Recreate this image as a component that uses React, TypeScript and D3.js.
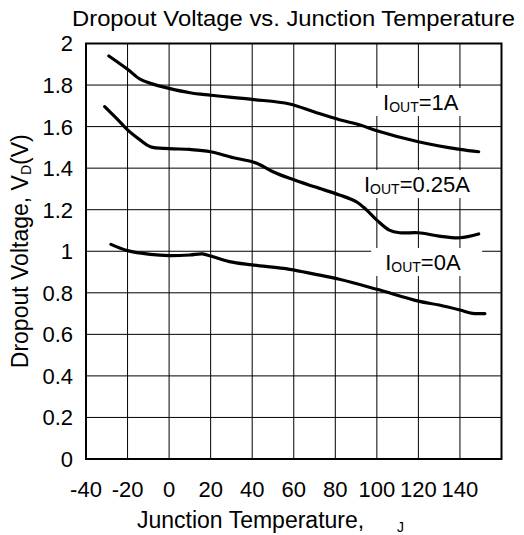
import React from "react";
import * as d3 from "d3";

// ---- data ----
const xTicks = [-40, -20, 0, 20, 40, 60, 80, 100, 120, 140];
const yTicks = [0, 0.2, 0.4, 0.6, 0.8, 1, 1.2, 1.4, 1.6, 1.8, 2];

const temp1A = [-29, -20, -14, -9, 0, 10, 20, 40, 58, 70, 82, 92, 100, 120, 140, 149];
const volt1A = [1.94, 1.876, 1.828, 1.808, 1.784, 1.763, 1.751, 1.731, 1.709, 1.67, 1.633, 1.608, 1.58, 1.527, 1.49, 1.479];

const temp025A = [-31, -23, -20, -14, -9, 0, 10, 20, 31, 40, 44, 50, 58, 70, 82, 90, 95, 100, 106, 111, 120, 130, 140, 149];
const volt025A = [1.696, 1.616, 1.584, 1.536, 1.503, 1.494, 1.49, 1.479, 1.45, 1.431, 1.415, 1.383, 1.351, 1.31, 1.271, 1.239, 1.199, 1.15, 1.102, 1.089, 1.089, 1.073, 1.065, 1.083];

const temp0A = [-28, -20, -9, 0, 10, 16, 20, 29, 40, 58, 70, 82, 100, 120, 130, 140, 146, 152];
const volt0A = [1.033, 1.003, 0.985, 0.979, 0.982, 0.987, 0.977, 0.95, 0.934, 0.913, 0.89, 0.865, 0.817, 0.76, 0.741, 0.717, 0.701, 0.7];

const seriesNames = ["=1A", "=0.25A", "=0A"];
const labelTemps = [103, 93.8, 104];
const labelVolts = [1.68, 1.285, 0.91];

const FONT = "'Liberation Sans', Arial, Helvetica, sans-serif";

export default function App() {
  const W = 524, H = 535;
  const L = 86, R = 501.5, T = 43.5, B = 459;
  const x = d3.scaleLinear().domain([-40, 160]).range([L, R]);
  const y = d3.scaleLinear().domain([0, 2]).range([B, T]);
  const line = d3
    .line<[number, number]>()
    .x((d) => x(d[0]))
    .y((d) => y(d[1]))
    .curve(d3.curveCatmullRom.alpha(0.5));

  const series = [
    d3.zip(temp1A, volt1A) as [number, number][],
    d3.zip(temp025A, volt025A) as [number, number][],
    d3.zip(temp0A, volt0A) as [number, number][],
  ];

  const gridX = d3.range(-20, 160, 20);
  const gridY = d3.range(0.2, 1.9, 0.2);

  const labelWidths = [82, 116, 83];

  return (
    <svg width={W} height={H} style={{ display: "block", position: "absolute", left: 0, top: 0 }} fontFamily={FONT}>
      <rect x={0} y={0} width={W} height={H} fill="#fff" />
      {/* grid */}
      {gridX.map((t) => (
        <line key={"gx" + t} x1={x(t)} x2={x(t)} y1={T} y2={B} stroke="#000" strokeWidth={1} />
      ))}
      {gridY.map((v, i) => (
        <line key={"gy" + i} x1={L} x2={R} y1={y(v)} y2={y(v)} stroke="#000" strokeWidth={1} />
      ))}
      {/* label backgrounds */}
      {seriesNames.map((n, i) => (
        <rect
          key={"bg" + i}
          x={x(labelTemps[i]) - 14}
          y={y(labelVolts[i]) - 22}
          width={labelWidths[i] + 28}
          height={28}
          fill="#fff"
        />
      ))}
      {/* curves */}
      {series.map((s, i) => (
        <path key={"s" + i} d={line(s) || ""} fill="none" stroke="#000" strokeWidth={3.2} strokeLinecap="round" />
      ))}
      {/* frame */}
      <rect x={L} y={T} width={R - L} height={B - T} fill="none" stroke="#000" strokeWidth={2} />
      {/* curve labels */}
      {seriesNames.map((n, i) => (
        <text key={"lb" + i} x={x(labelTemps[i])} y={y(labelVolts[i])} fontSize={22} fill="#000">
          I<tspan fontSize={14} dy={2}>OUT</tspan>
          <tspan dy={-2}>{n}</tspan>
        </text>
      ))}
      {/* x tick labels */}
      {xTicks.map((t) => (
        <text key={"xt" + t} x={x(t)} y={497} fontSize={22} textAnchor="middle" fill="#000">
          {t}
        </text>
      ))}
      {/* y tick labels */}
      {yTicks.map((v, i) => (
        <text key={"yt" + i} x={73} y={y(v)} dy="0.36em" fontSize={22} textAnchor="end" fill="#000">
          {String(+v.toFixed(1))}
        </text>
      ))}
      {/* title */}
      <text x={72} y={26} fontSize={22.5} textLength={443} lengthAdjust="spacingAndGlyphs" fill="#000">
        Dropout Voltage vs. Junction Temperature
      </text>
      {/* x axis title */}
      <text x={137} y={528} fontSize={23} fill="#000">
        Junction Temperature,
        <tspan x={397} dy={4} fontSize={14}>J</tspan>
      </text>
      {/* y axis title */}
      <text transform={`translate(28, ${(T + B) / 2}) rotate(-90)`} textAnchor="middle" fontSize={23} fill="#000">
        Dropout Voltage, V<tspan fontSize={14} dy={3}>D</tspan>
        <tspan dy={-3}>(V)</tspan>
      </text>
    </svg>
  );
}
